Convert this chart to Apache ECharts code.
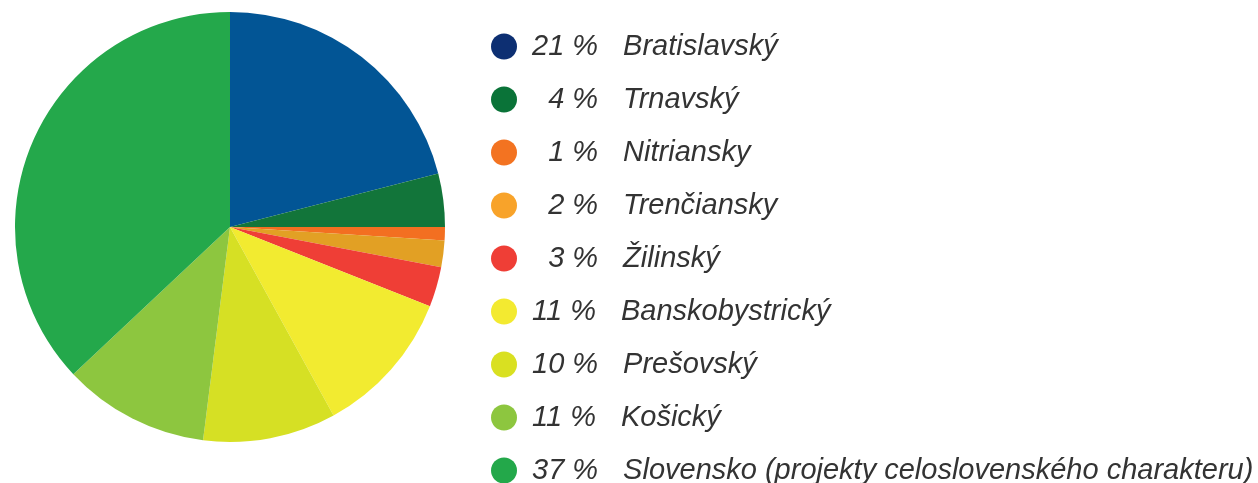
<!DOCTYPE html>
<html>
<head>
<meta charset="utf-8">
<script src="https://cdn.jsdelivr.net/npm/echarts@6/dist/echarts.min.js"></script>
<style>
  html, body { margin: 0; padding: 0; background: #fff; }
  #chart { width: 1258px; height: 483px; }
</style>
</head>
<body>
<div id="chart"></div>
<script>
  // kraje a podiel v percentách
  const regions = [
    'Bratislavský',
    'Trnavský',
    'Nitriansky',
    'Trenčiansky',
    'Žilinský',
    'Banskobystrický',
    'Prešovský',
    'Košický',
    'Slovensko (projekty celoslovenského charakteru)'
  ]
  const shares = [21, 4, 1, 2, 3, 11, 10, 11, 37]
  // farby výsekov a farby v legende (mierne sa líšia)
  const sliceColors = ['#025595', '#12753a', '#f36f21', '#e2a024', '#ef3e36', '#f2eb30', '#d6e024', '#8dc63f', '#24a84b']
  const legendColors = ['#0d2f72', '#0a7338', '#f37321', '#f8a32a', '#ef3e36', '#f3ea30', '#d9e021', '#8dc63f', '#23a84a']

  const chart = echarts.init(document.getElementById('chart'))

  const shareByName = {}
  regions.forEach((r, i) => { shareByName[r] = shares[i] })

  // jednociferné čísla doplniť medzerou šírky číslice, aby boli zarovnané vpravo
  const pct = v => (v < 10 ? '\u2007' : '') + v + ' %'

  const txt = {
    fontSize: 29,
    fontStyle: 'italic',
    fontFamily: '"Liberation Sans", Arial, sans-serif',
    color: '#333333',
    lineHeight: 26
  }

  chart.setOption({
    animation: false,
    legend: {
      orient: 'vertical',
      left: 491,
      top: 32,
      height: 470,
      padding: 0,
      itemWidth: 26,
      itemHeight: 26,
      itemGap: 24,
      icon: 'circle',
      selectedMode: false,
      data: regions.map((r, i) => ({ name: r, itemStyle: { color: legendColors[i] } })),
      formatter: name => '{p|' + pct(shareByName[name]) + '}{n|' + name + '}',
      textStyle: {
        rich: {
          p: Object.assign({ padding: [0, 0, 0, 10] }, txt),
          n: Object.assign({ padding: [0, 0, 0, 25] }, txt)
        }
      }
    },
    series: [
      {
        type: 'pie',
        center: [230, 227],
        radius: 215,
        startAngle: 90,
        clockwise: true,
        label: { show: false },
        labelLine: { show: false },
        emphasis: { disabled: true },
        itemStyle: { borderWidth: 0 },
        data: regions.map((r, i) => ({
          name: r,
          value: shares[i],
          itemStyle: { color: sliceColors[i] }
        }))
      }
    ]
  })
</script>
</body>
</html>
